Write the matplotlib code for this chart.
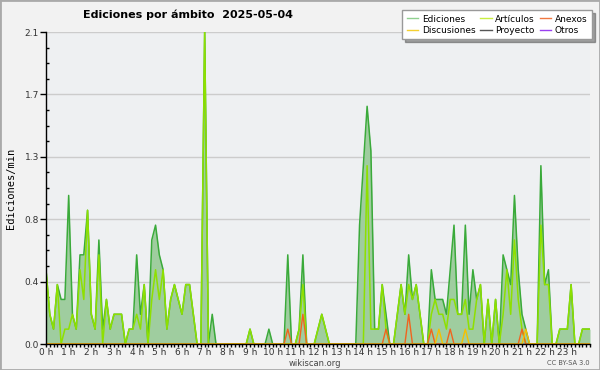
import numpy as np
import matplotlib
matplotlib.use('Agg')
import matplotlib.pyplot as plt
from matplotlib.lines import Line2D
from matplotlib.patches import Rectangle
from matplotlib.ticker import MultipleLocator

title = 'Ediciones por ámbito  2025-05-04'
ylabel = 'Ediciones/min'

# edits per minute, one value every 10 minutes (one row per hour)
ediciones = [
    0.5, 0.2, 0.1, 0.4, 0.3, 0.3,
    1.0, 0.2, 0.1, 0.6, 0.6, 0.9,
    0.2, 0.1, 0.7, 0.1, 0.3, 0.1,
    0.2, 0.2, 0.2, 0.0, 0.1, 0.1,
    0.6, 0.2, 0.4, 0.0, 0.7, 0.8,
    0.6, 0.5, 0.1, 0.3, 0.4, 0.3,
    0.2, 0.4, 0.4, 0.2, 0.0, 0.0,
    2.1, 0.0, 0.2, 0.0, 0.0, 0.0,
    0.0, 0.0, 0.0, 0.0, 0.0, 0.0,
    0.1, 0.0, 0.0, 0.0, 0.0, 0.1,
    0.0, 0.0, 0.0, 0.0, 0.6, 0.0,
    0.0, 0.1, 0.6, 0.0, 0.0, 0.0,
    0.1, 0.2, 0.1, 0.0, 0.0, 0.0,
    0.0, 0.0, 0.0, 0.0, 0.0, 0.8,
    1.2, 1.6, 1.3, 0.1, 0.1, 0.4,
    0.2, 0.0, 0.0, 0.2, 0.4, 0.2,
    0.6, 0.3, 0.4, 0.2, 0.0, 0.0,
    0.5, 0.3, 0.3, 0.3, 0.2, 0.5,
    0.8, 0.2, 0.2, 0.8, 0.2, 0.5,
    0.3, 0.4, 0.0, 0.3, 0.0, 0.3,
    0.0, 0.6, 0.5, 0.4, 1.0, 0.5,
    0.2, 0.1, 0.0, 0.0, 0.0, 1.2,
    0.4, 0.5, 0.0, 0.0, 0.1, 0.1,
    0.1, 0.4, 0.0, 0.0, 0.1, 0.1,
    0.1,
]

articulos = [
    0.5, 0.2, 0.1, 0.4, 0.0, 0.1,
    0.1, 0.2, 0.1, 0.5, 0.3, 0.9,
    0.2, 0.1, 0.6, 0.0, 0.3, 0.1,
    0.2, 0.2, 0.2, 0.0, 0.1, 0.1,
    0.2, 0.1, 0.4, 0.0, 0.3, 0.5,
    0.3, 0.5, 0.1, 0.3, 0.4, 0.3,
    0.2, 0.4, 0.4, 0.2, 0.0, 0.0,
    2.1, 0.0, 0.0, 0.0, 0.0, 0.0,
    0.0, 0.0, 0.0, 0.0, 0.0, 0.0,
    0.1, 0.0, 0.0, 0.0, 0.0, 0.0,
    0.0, 0.0, 0.0, 0.0, 0.0, 0.0,
    0.0, 0.1, 0.4, 0.0, 0.0, 0.0,
    0.1, 0.2, 0.1, 0.0, 0.0, 0.0,
    0.0, 0.0, 0.0, 0.0, 0.0, 0.0,
    0.0, 1.2, 0.1, 0.1, 0.1, 0.4,
    0.1, 0.0, 0.0, 0.2, 0.4, 0.2,
    0.4, 0.3, 0.4, 0.2, 0.0, 0.0,
    0.2, 0.3, 0.2, 0.2, 0.1, 0.3,
    0.3, 0.2, 0.2, 0.3, 0.1, 0.1,
    0.3, 0.4, 0.0, 0.3, 0.0, 0.3,
    0.0, 0.2, 0.5, 0.2, 0.7, 0.3,
    0.1, 0.0, 0.0, 0.0, 0.0, 0.8,
    0.4, 0.4, 0.0, 0.0, 0.1, 0.1,
    0.1, 0.4, 0.0, 0.0, 0.1, 0.1,
    0.1,
]

# sparse series: slot number (10 min steps) and value
anexos_slots = [64, 68, 90, 96, 102, 107, 126]
anexos_vals = [0.1, 0.2, 0.1, 0.2, 0.1, 0.1, 0.1]
discusiones_slots = [104, 111, 127]
discusiones_vals = [0.1, 0.1, 0.1]

y_ticks = [0.0, 0.42, 0.84, 1.26, 1.68, 2.1]
y_labels = ['0.0', '0.4', '0.8', '1.3', '1.7', '2.1']
hours = list(range(24))

n = len(ediciones)
t = np.arange(n) / 6.0
anexos = np.zeros(n)
anexos[anexos_slots] = anexos_vals
discusiones = np.zeros(n)
discusiones[discusiones_slots] = discusiones_vals
proyecto = np.zeros(n)
otros = np.zeros(n)

fig = plt.figure(figsize=(6, 3.7), dpi=100, facecolor='#f2f2f2')
ax = fig.add_axes([46 / 600, 26 / 370, 544 / 600, 312 / 370])
ax.set_facecolor('#eef0f2')

ax.fill_between(t, ediciones, color='#9fcd9f', lw=0)
ax.plot(t, ediciones, color='#3aaa3a', lw=1.1)
ax.plot(t, proyecto, color='#555555', lw=1)
ax.plot(t, otros, color='#9933ee', lw=1)
ax.plot(t, articulos, color='#8ee000', lw=1.1)
ax.plot(t, anexos, color='#f0641e', lw=1)
ax.plot(t, discusiones, color='#f5c000', lw=1)

ax.set_xlim(0, 24)
ax.set_ylim(0, 2.1)

ax.yaxis.grid(True, color='#cccccc', lw=1)
ax.set_axisbelow(True)
for s in ['top', 'right']:
    ax.spines[s].set_visible(False)
for s in ['left', 'bottom']:
    ax.spines[s].set_color('black')
    ax.spines[s].set_linewidth(1)

ax.set_yticks(y_ticks)
ax.set_yticklabels(y_labels)
ax.yaxis.set_minor_locator(MultipleLocator(0.105))
ax.set_xticks(hours)
ax.set_xticklabels([f'{h} h' for h in hours])
ax.xaxis.set_minor_locator(MultipleLocator(1 / 6))
ax.tick_params(axis='x', which='both', length=2.5, width=1, direction='out',
               labelsize=6.5, pad=0.5, colors='black')
ax.tick_params(axis='y', which='major', length=4, width=1, direction='out',
               labelsize=6.5, pad=1)
ax.tick_params(axis='y', which='minor', length=2, width=1, direction='in')
for lab in ax.get_xticklabels() + ax.get_yticklabels():
    lab.set_color('#333333')

ax.set_ylabel(ylabel, family='DejaVu Sans Mono', fontsize=7.5, labelpad=6)

fig.text(188 / 600, 1 - 15 / 370, title, ha='center', va='center',
         fontsize=8, weight='bold')
fig.text(315 / 600, 1 - 363 / 370, 'wikiscan.org', ha='center', va='center',
         fontsize=6, color='#444444')
fig.text(590 / 600, 1 - 363 / 370, 'CC BY-SA 3.0', ha='right', va='center',
         fontsize=4.8, color='#555555')

handles = [
    Line2D([], [], color='#8fd08f', lw=1),
    Line2D([], [], color='#f5d030', lw=1),
    Line2D([], [], color='#c8ee40', lw=1),
    Line2D([], [], color='#555555', lw=1),
    Line2D([], [], color='#f07840', lw=1),
    Line2D([], [], color='#9a40f0', lw=1),
]
labels = ['Ediciones', 'Discusiones', 'Artículos', 'Proyecto', 'Anexos', 'Otros']
fig.legend(handles, labels, loc='upper right', bbox_to_anchor=(592 / 600, 1 - 10 / 370),
           ncol=3, fontsize=6.5, frameon=True, fancybox=False, shadow=True,
           edgecolor='#999999', handlelength=1.3, columnspacing=0.5,
           labelspacing=0.25, borderpad=0.5, handletextpad=0.4,
           borderaxespad=0)

fig.patches.append(Rectangle((0, 0), 1, 1, transform=fig.transFigure, fill=False,
                             edgecolor='#aaaaaa', lw=2))

fig.savefig('out.png', dpi=100, facecolor=fig.get_facecolor())
